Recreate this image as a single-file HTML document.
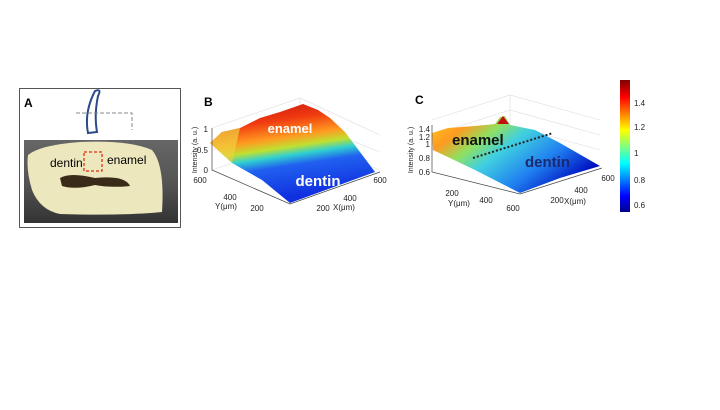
<!DOCTYPE html>
<html><head><meta charset="utf-8"><style>
body{margin:0;background:#fff;width:720px;height:405px;overflow:hidden}
svg text{font-family:"Liberation Sans",sans-serif}
</style></head><body>
<svg width="720" height="405" viewBox="0 0 720 405" xmlns="http://www.w3.org/2000/svg">
<defs>
<linearGradient id="jet" x1="0" y1="1" x2="0" y2="0">
<stop offset="0" stop-color="#00008f"/><stop offset="0.12" stop-color="#0000ff"/><stop offset="0.37" stop-color="#00ffff"/><stop offset="0.62" stop-color="#ffff00"/><stop offset="0.87" stop-color="#ff0000"/><stop offset="1" stop-color="#800000"/>
</linearGradient>
<linearGradient id="gb" x1="0" y1="0" x2="0.25" y2="1">
<stop offset="0" stop-color="#c01010"/><stop offset="0.25" stop-color="#f03a10"/><stop offset="0.42" stop-color="#ff9a20"/><stop offset="0.52" stop-color="#c0e030"/><stop offset="0.6" stop-color="#30d0d0"/><stop offset="0.7" stop-color="#2060f0"/><stop offset="1" stop-color="#1030e0"/>
</linearGradient>
<linearGradient id="gc" x1="0" y1="0" x2="1" y2="0.6">
<stop offset="0" stop-color="#ffd020"/><stop offset="0.2" stop-color="#ff9a20"/><stop offset="0.35" stop-color="#90e060"/><stop offset="0.5" stop-color="#40d0e0"/><stop offset="0.75" stop-color="#2080f0"/><stop offset="1" stop-color="#0010c0"/>
</linearGradient>
<linearGradient id="photo" x1="0" y1="0" x2="0" y2="1">
<stop offset="0" stop-color="#666"/><stop offset="0.5" stop-color="#555"/><stop offset="1" stop-color="#333"/>
</linearGradient>
</defs>
<!-- Panel A -->
<rect x="19.5" y="88.5" width="161" height="139" fill="#fff" stroke="#555"/>
<text x="24" y="107" font-size="12" font-weight="bold">A</text>
<path d="M95 91 Q102 88 98 96 Q94 115 97 132 L88 133 Q84 112 95 91Z" fill="none" stroke="#2a4a8a" stroke-width="2"/>
<path d="M76 113 H132 V130" fill="none" stroke="#888" stroke-dasharray="4,2"/>
<rect x="24" y="140" width="154" height="83" fill="url(#photo)"/>
<path d="M28 155 Q40 145 80 142 Q130 140 152 150 Q165 165 162 212 Q120 216 60 214 Q40 210 32 190 Q26 170 28 155Z" fill="#ede7be"/>
<path d="M60 178 Q70 172 95 178 Q125 175 130 186 Q110 188 95 185 Q75 190 62 186Z" fill="#3a2a18"/>
<rect x="84" y="152" width="18" height="19" fill="none" stroke="#e03010" stroke-dasharray="3,2" stroke-width="1.3"/>
<text x="50" y="167" font-size="12">dentin</text>
<text x="107" y="164" font-size="12">enamel</text>
<!-- Panel B -->
<text x="204" y="106" font-size="12" font-weight="bold">B</text>
<g stroke="#ddd" stroke-width="0.6" fill="none">
<path d="M212 128 L300 98 L380 135"/><path d="M300 98 V140"/><path d="M212 170 L300 140 L380 170"/><path d="M212 150 L300 120 L380 152"/>
</g>
<polygon points="210,143 222,132 240,128 260,118 280,112 303,104 318,110 330,118 345,132 375,172 290,203 262,180 232,163" fill="url(#gb)"/>
<polygon points="210,143 222,132 240,128 235,150 232,163" fill="#f0d040" opacity="0.7"/>
<path d="M212 128 V170 L290 204 L380 172" fill="none" stroke="#444" stroke-width="0.7"/>
<text x="290" y="133" font-size="13" font-weight="bold" fill="#fff" text-anchor="middle">enamel</text>
<text x="318" y="186" font-size="15" font-weight="bold" fill="#fff" text-anchor="middle">dentin</text>
<g font-size="8" fill="#222">
<text x="208" y="132" text-anchor="end">1</text><text x="208" y="153" text-anchor="end">0.5</text><text x="208" y="173" text-anchor="end">0</text>
<text x="200" y="183" text-anchor="middle">600</text><text x="230" y="200" text-anchor="middle">400</text><text x="226" y="209" text-anchor="middle">Y(μm)</text><text x="257" y="211" text-anchor="middle">200</text>
<text x="323" y="211" text-anchor="middle">200</text><text x="344" y="210" text-anchor="middle">X(μm)</text><text x="350" y="201" text-anchor="middle">400</text><text x="380" y="183" text-anchor="middle">600</text>
<text transform="translate(197,150) rotate(-90)" text-anchor="middle" font-size="7">Intensity (a. u.)</text>
</g>
<!-- Panel C -->
<text x="415" y="104" font-size="12" font-weight="bold">C</text>
<g stroke="#ddd" stroke-width="0.6" fill="none">
<path d="M432 120 L510 95 L600 120"/><path d="M510 95 V150"/><path d="M432 150 L510 125 L600 150"/><path d="M432 135 L510 110 L600 135"/>
</g>
<polygon points="432,133 448,128 475,126 495,124 500,117 505,116 510,125 535,130 560,143 600,166 560,178 520,193 475,170 433,150" fill="url(#gc)"/>
<path d="M497 124 L503 116 L509 124Z" fill="#c01010"/>
<path d="M432 125 V172 L520 194 L602 168" fill="none" stroke="#444" stroke-width="0.7"/>
<line x1="473" y1="158" x2="553" y2="133" stroke="#222" stroke-width="2" stroke-dasharray="2,2"/>
<text x="452" y="145" font-size="15" font-weight="bold" fill="#111">enamel</text>
<text x="525" y="167" font-size="15" font-weight="bold" fill="#1a2a70">dentin</text>
<g font-size="8" fill="#222">
<text x="430" y="132" text-anchor="end">1.4</text><text x="430" y="140" text-anchor="end">1.2</text><text x="430" y="147" text-anchor="end">1</text><text x="430" y="161" text-anchor="end">0.8</text><text x="430" y="175" text-anchor="end">0.6</text>
<text x="452" y="196" text-anchor="middle">200</text><text x="459" y="206" text-anchor="middle">Y(μm)</text><text x="486" y="203" text-anchor="middle">400</text><text x="513" y="211" text-anchor="middle">600</text>
<text x="557" y="203" text-anchor="middle">200</text><text x="575" y="204" text-anchor="middle">X(μm)</text><text x="581" y="193" text-anchor="middle">400</text><text x="608" y="181" text-anchor="middle">600</text>
<text transform="translate(413,150) rotate(-90)" text-anchor="middle" font-size="7">Intensity (a. u.)</text>
</g>
<rect x="620" y="80" width="10" height="132" fill="url(#jet)"/>
<g font-size="8" fill="#222">
<text x="634" y="106">1.4</text><text x="634" y="130">1.2</text><text x="634" y="156">1</text><text x="634" y="183">0.8</text><text x="634" y="208">0.6</text>
</g>
</svg>
</body></html>
